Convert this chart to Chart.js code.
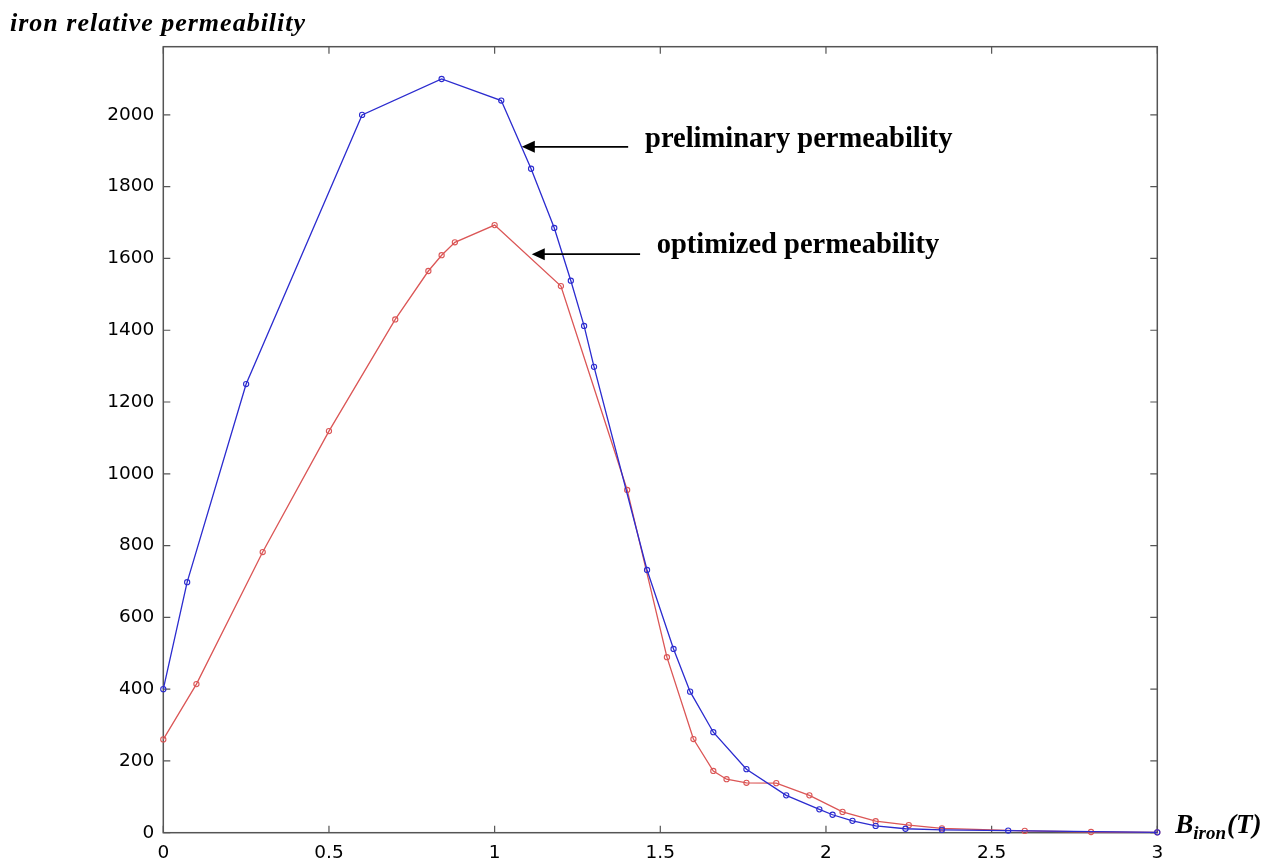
<!DOCTYPE html>
<html>
<head>
<meta charset="utf-8">
<script src="https://cdn.jsdelivr.net/npm/chart.js@4.4.1/dist/chart.umd.min.js"></script>
<style>
  html, body { margin: 0; padding: 0; background: #ffffff; }
  #wrap { width: 1274px; height: 867px; position: relative; }
</style>
</head>
<body>
<div id="wrap"><canvas id="c" width="1274" height="867"></canvas></div>
<script>
// ---- data ----
const prelimB  = [0, 0.072, 0.25, 0.60, 0.84, 1.02, 1.11, 1.18, 1.23, 1.27, 1.30, 1.46, 1.54, 1.59, 1.66, 1.76, 1.88, 1.98, 2.02, 2.08, 2.15, 2.24, 2.35, 2.55, 3.00];
const prelimMu = [400, 698, 1250, 2000, 2100, 2040, 1850, 1685, 1538, 1412, 1298, 732, 512, 393, 280, 177, 104, 65, 50, 33, 19, 11, 8, 6, 1];
const optB  = [0, 0.10, 0.30, 0.50, 0.70, 0.80, 0.84, 0.88, 1.00, 1.20, 1.40, 1.52, 1.60, 1.66, 1.70, 1.76, 1.85, 1.95, 2.05, 2.15, 2.25, 2.35, 2.60, 2.80, 3.00];
const optMu = [260, 414, 782, 1119, 1430, 1565, 1609, 1645, 1693, 1523, 955, 489, 261, 172, 149, 139, 138, 104, 58, 32, 21, 12, 5, 2, 1];
const xTicks = [0, 0.5, 1, 1.5, 2, 2.5, 3];
const yTicks = [0, 200, 400, 600, 800, 1000, 1200, 1400, 1600, 1800, 2000];
const seriesNames = ['preliminary permeability', 'optimized permeability'];
const yTitle = 'iron relative permeability';

// annotation anchors (data coordinates)
const notes = [
  { text: seriesNames[0], tip: [1.082, 1911], tail: 1.403, textX: 1.454, textY: 1930 },
  { text: seriesNames[1], tip: [1.112, 1612], tail: 1.439, textX: 1.489, textY: 1637 }
];

const toPts = (xs, ys) => xs.map((x, i) => ({ x: x, y: ys[i] }));

const frame = {
  id: 'frame',
  beforeDatasetsDraw(chart) {
    const { ctx, chartArea: a, scales } = chart;
    ctx.save();
    ctx.strokeStyle = '#555555';
    ctx.lineWidth = 1.5;
    ctx.strokeRect(a.left, a.top, a.right - a.left, a.bottom - a.top);
    const tl = 7;
    ctx.lineWidth = 1.2;
    ctx.beginPath();
    xTicks.forEach(v => {
      const px = scales.x.getPixelForValue(v);
      ctx.moveTo(px, a.bottom); ctx.lineTo(px, a.bottom - tl);
      ctx.moveTo(px, a.top); ctx.lineTo(px, a.top + tl);
    });
    yTicks.forEach(v => {
      const py = scales.y.getPixelForValue(v);
      ctx.moveTo(a.left, py); ctx.lineTo(a.left + tl, py);
      ctx.moveTo(a.right, py); ctx.lineTo(a.right - tl, py);
    });
    ctx.stroke();
    ctx.restore();
  },
  afterDraw(chart) {
    const { ctx, chartArea: a, scales } = chart;
    ctx.save();
    // y title
    ctx.fillStyle = '#000';
    ctx.font = 'italic bold 26px "Liberation Serif"';
    ctx.textBaseline = 'alphabetic';
    ctx.textAlign = 'left';
    try { ctx.letterSpacing = '1px'; } catch (e) {}
    ctx.fillText(yTitle, 10, 31);
    try { ctx.letterSpacing = '0px'; } catch (e) {}
    // x title B_iron(T)
    let x = a.right + 18;
    const base = a.bottom;
    ctx.font = 'italic bold 27px "Liberation Serif"';
    ctx.fillText('B', x, base);
    x += ctx.measureText('B').width;
    ctx.font = 'italic bold 19px "Liberation Serif"';
    ctx.fillText('iron', x, base + 6);
    x += ctx.measureText('iron').width + 1;
    ctx.font = 'italic bold 27px "Liberation Serif"';
    ctx.fillText('(T)', x, base);
    // annotations with arrows
    notes.forEach(n => {
      const tx = scales.x.getPixelForValue(n.tip[0]);
      const ty = scales.y.getPixelForValue(n.tip[1]);
      const ex = scales.x.getPixelForValue(n.tail);
      ctx.strokeStyle = '#000';
      ctx.lineWidth = 1.8;
      ctx.beginPath();
      ctx.moveTo(ex, ty); ctx.lineTo(tx + 10, ty);
      ctx.stroke();
      ctx.beginPath();
      ctx.moveTo(tx, ty);
      ctx.lineTo(tx + 13, ty - 6);
      ctx.lineTo(tx + 13, ty + 6);
      ctx.closePath();
      ctx.fillStyle = '#000';
      ctx.fill();
      ctx.font = 'bold 28.5px "Liberation Serif"';
      ctx.textBaseline = 'middle';
      ctx.fillText(n.text, scales.x.getPixelForValue(n.textX), scales.y.getPixelForValue(n.textY));
      ctx.textBaseline = 'alphabetic';
    });
    ctx.restore();
  }
};

new Chart(document.getElementById('c'), {
  type: 'line',
  data: {
    datasets: [
      {
        label: seriesNames[0],
        data: toPts(prelimB, prelimMu),
        borderColor: '#2b2bcf',
        backgroundColor: 'rgba(0,0,0,0)',
        borderWidth: 1.3,
        pointRadius: 2.6,
        pointBorderWidth: 1.1,
        pointBorderColor: '#2b2bcf',
        pointBackgroundColor: 'rgba(0,0,0,0)',
        tension: 0
      },
      {
        label: seriesNames[1],
        data: toPts(optB, optMu),
        borderColor: '#db5656',
        backgroundColor: 'rgba(0,0,0,0)',
        borderWidth: 1.3,
        pointRadius: 2.6,
        pointBorderWidth: 1.1,
        pointBorderColor: '#db5656',
        pointBackgroundColor: 'rgba(0,0,0,0)',
        tension: 0
      }
    ]
  },
  options: {
    responsive: false,
    animation: false,
    clip: false,
    layout: { padding: { left: 0, right: 116.7, top: 46.7, bottom: 0 } },
    plugins: { legend: { display: false }, tooltip: { enabled: false }, title: { display: false } },
    scales: {
      x: {
        type: 'linear', min: 0, max: 3,
        grid: { display: false, drawTicks: false },
        border: { display: false },
        afterBuildTicks: s => { s.ticks = xTicks.map(v => ({ value: v })); },
        afterFit: s => { s.height = 34.3; },
        ticks: { color: '#000', padding: 9, font: { family: '"DejaVu Sans"', size: 18.5 }, maxRotation: 0,
                 callback: v => String(v) }
      },
      y: {
        type: 'linear', min: 0, max: 2190,
        grid: { display: false, drawTicks: false },
        border: { display: false },
        afterBuildTicks: s => { s.ticks = yTicks.map(v => ({ value: v })); },
        afterFit: s => { s.width = 163.3; },
        ticks: { color: '#000', padding: 9, font: { family: '"DejaVu Sans"', size: 18.5 },
                 callback: v => String(v) }
      }
    }
  },
  plugins: [frame]
});
</script>
</body>
</html>
